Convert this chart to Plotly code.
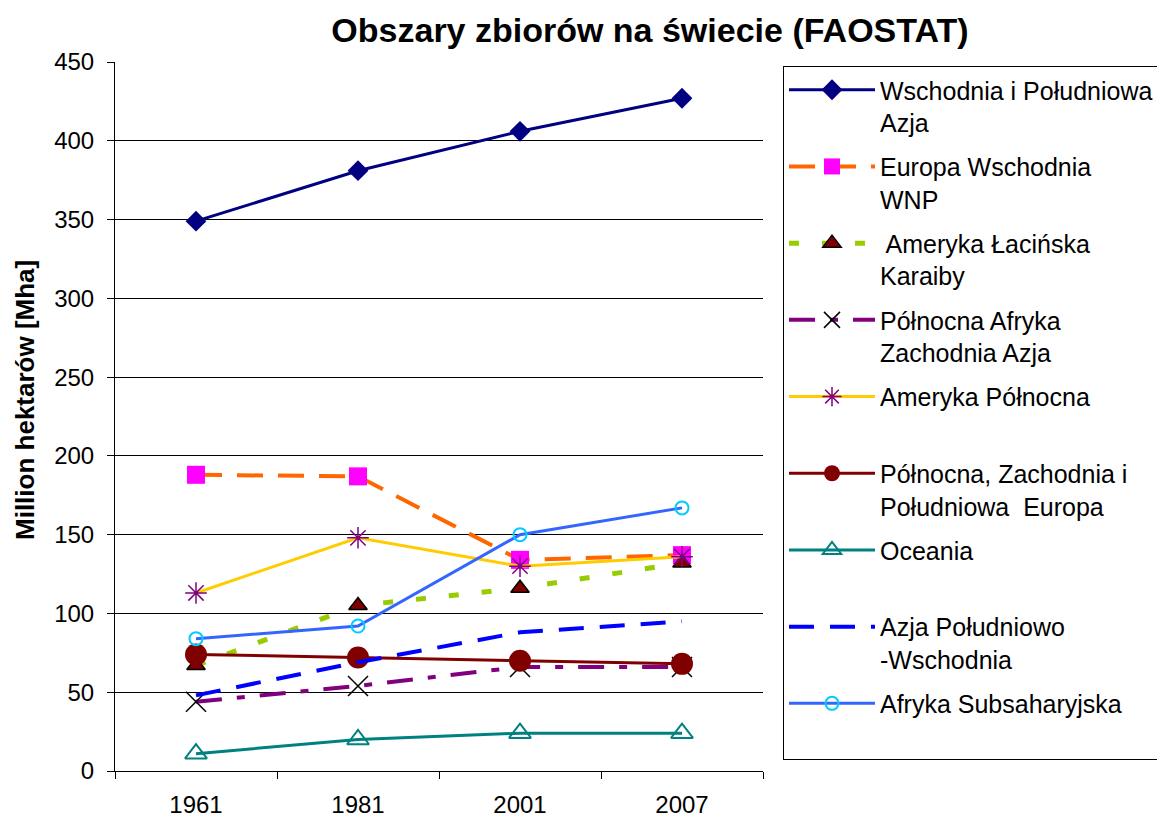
import plotly.graph_objects as go

years = ["1961", "1981", "2001", "2007"]

wschodnia_poludniowa_azja = [349, 381, 406, 427]
europa_wschodnia_wnp = [188, 187, 134, 137]
ameryka_lacinska = [67, 105, 116, 132]
pn_afryka_zach_azja = [44, 54, 66, 66]
ameryka_polnocna = [113, 148, 130, 136]
pn_zach_pd_europa = [74, 72, 70, 68]
oceania = [11, 20, 24, 24]
azja_pd_wsch = [48, 69, 88, 95]
afryka_subsaharyjska = [84, 92, 150, 167]

names = [
    "Wschodnia i Południowa<br>Azja",
    "Europa Wschodnia<br>WNP",
    " Ameryka Łacińska<br>Karaiby",
    "Północna Afryka<br>Zachodnia Azja",
    "Ameryka Północna<br>\u00a0",
    "Północna, Zachodnia i<br>Południowa  Europa",
    "Oceania<br>\u00a0",
    "Azja Południowo<br>-Wschodnia",
    "Afryka Subsaharyjska<br>\u00a0",
]

FONT = "Arial, Liberation Sans, sans-serif"

fig = go.Figure()

def add(y, name, line, marker=None, mode="lines+markers"):
    fig.add_trace(go.Scatter(
        x=years, y=y, name=name, mode=mode, line=line,
        marker=marker, legendgroup=name, cliponaxis=False,
    ))

add(wschodnia_poludniowa_azja, names[0],
    dict(color="#000080", width=3),
    dict(symbol="diamond", size=16, color="#000080"))
add(europa_wschodnia_wnp, names[1],
    dict(color="#FF6600", width=4, dash="26px,15px"),
    dict(symbol="square", size=18, color="#FF00FF"))
add(ameryka_lacinska, names[2],
    dict(color="#99CC00", width=5, dash="10px,23px"),
    dict(symbol="triangle-up", size=16, color="#800000",
         line=dict(color="black", width=1.5)))
add(pn_afryka_zach_azja, names[3],
    dict(color="#800080", width=4, dash="26px,15px,8px,15px"),
    dict(symbol="x-thin", size=20, color="black",
         line=dict(color="black", width=1.5)))
add(ameryka_polnocna, names[4],
    dict(color="#FFCC00", width=3),
    dict(symbol="asterisk-open", size=18, color="#800080",
         line=dict(color="#800080", width=1.5)))
add(pn_zach_pd_europa, names[5],
    dict(color="#800000", width=3),
    dict(symbol="circle", size=22, color="#800000"))
add(oceania, names[6],
    dict(color="#008080", width=3),
    dict(symbol="triangle-up-open", size=19, color="#008080",
         line=dict(color="#008080", width=2)))
add(azja_pd_wsch, names[7],
    dict(color="#0000FF", width=4, dash="25px,16px"),
    mode="lines")
add(afryka_subsaharyjska, names[8],
    dict(color="#3366FF", width=3),
    dict(symbol="circle-open", size=13, color="#00CCFF",
         line=dict(color="#00CCFF", width=2)))

fig.update_layout(
    width=1157, height=819,
    margin=dict(l=115, r=394, t=62, b=48, autoexpand=False),
    paper_bgcolor="white", plot_bgcolor="white",
    font=dict(family=FONT, size=24, color="black"),
    title=dict(text="<b>Obszary zbiorów na świecie (FAOSTAT)</b>",
               font=dict(family=FONT, size=34, color="black"),
               xref="container", x=650 / 1157, xanchor="center",
               yref="container", y=1 - 30 / 819, yanchor="middle"),
    showlegend=True,
    legend=dict(
        x=(783 - 115) / 648, xanchor="left",
        y=(771 - 66) / 709, yanchor="top",
        bordercolor="black", borderwidth=1, bgcolor="white",
        font=dict(family=FONT, size=25, color="black"),
        valign="top", tracegroupgap=8.7, itemwidth=86,
    ),
)

fig.update_xaxes(
    type="category", range=[-0.5, 3.5], tickson="boundaries",
    ticks="outside", ticklen=7, tickcolor="black",
    showline=True, linecolor="black", linewidth=1,
    showgrid=False, zeroline=False, ticklabelstandoff=12,
    tickfont=dict(family=FONT, size=24, color="black"),
)
fig.update_yaxes(
    range=[0, 450], dtick=50, tick0=0,
    ticks="outside", ticklen=7, tickcolor="black",
    showline=True, linecolor="black", linewidth=1,
    showgrid=True, gridcolor="black", gridwidth=1,
    zeroline=False, ticklabelstandoff=8,
    tickfont=dict(family=FONT, size=24, color="black"),
)

fig.add_annotation(
    text="<b>Million hektarów [Mha]</b>", textangle=-90,
    xref="paper", yref="paper",
    x=(25 - 115) / 648, y=(771 - 400) / 709,
    xanchor="center", yanchor="middle", showarrow=False,
    font=dict(family=FONT, size=26, color="black"),
)

fig.write_html("out.html",
               config={"displayModeBar": False},
               post_script="document.body.style.margin='0';document.body.style.overflow='hidden';")
